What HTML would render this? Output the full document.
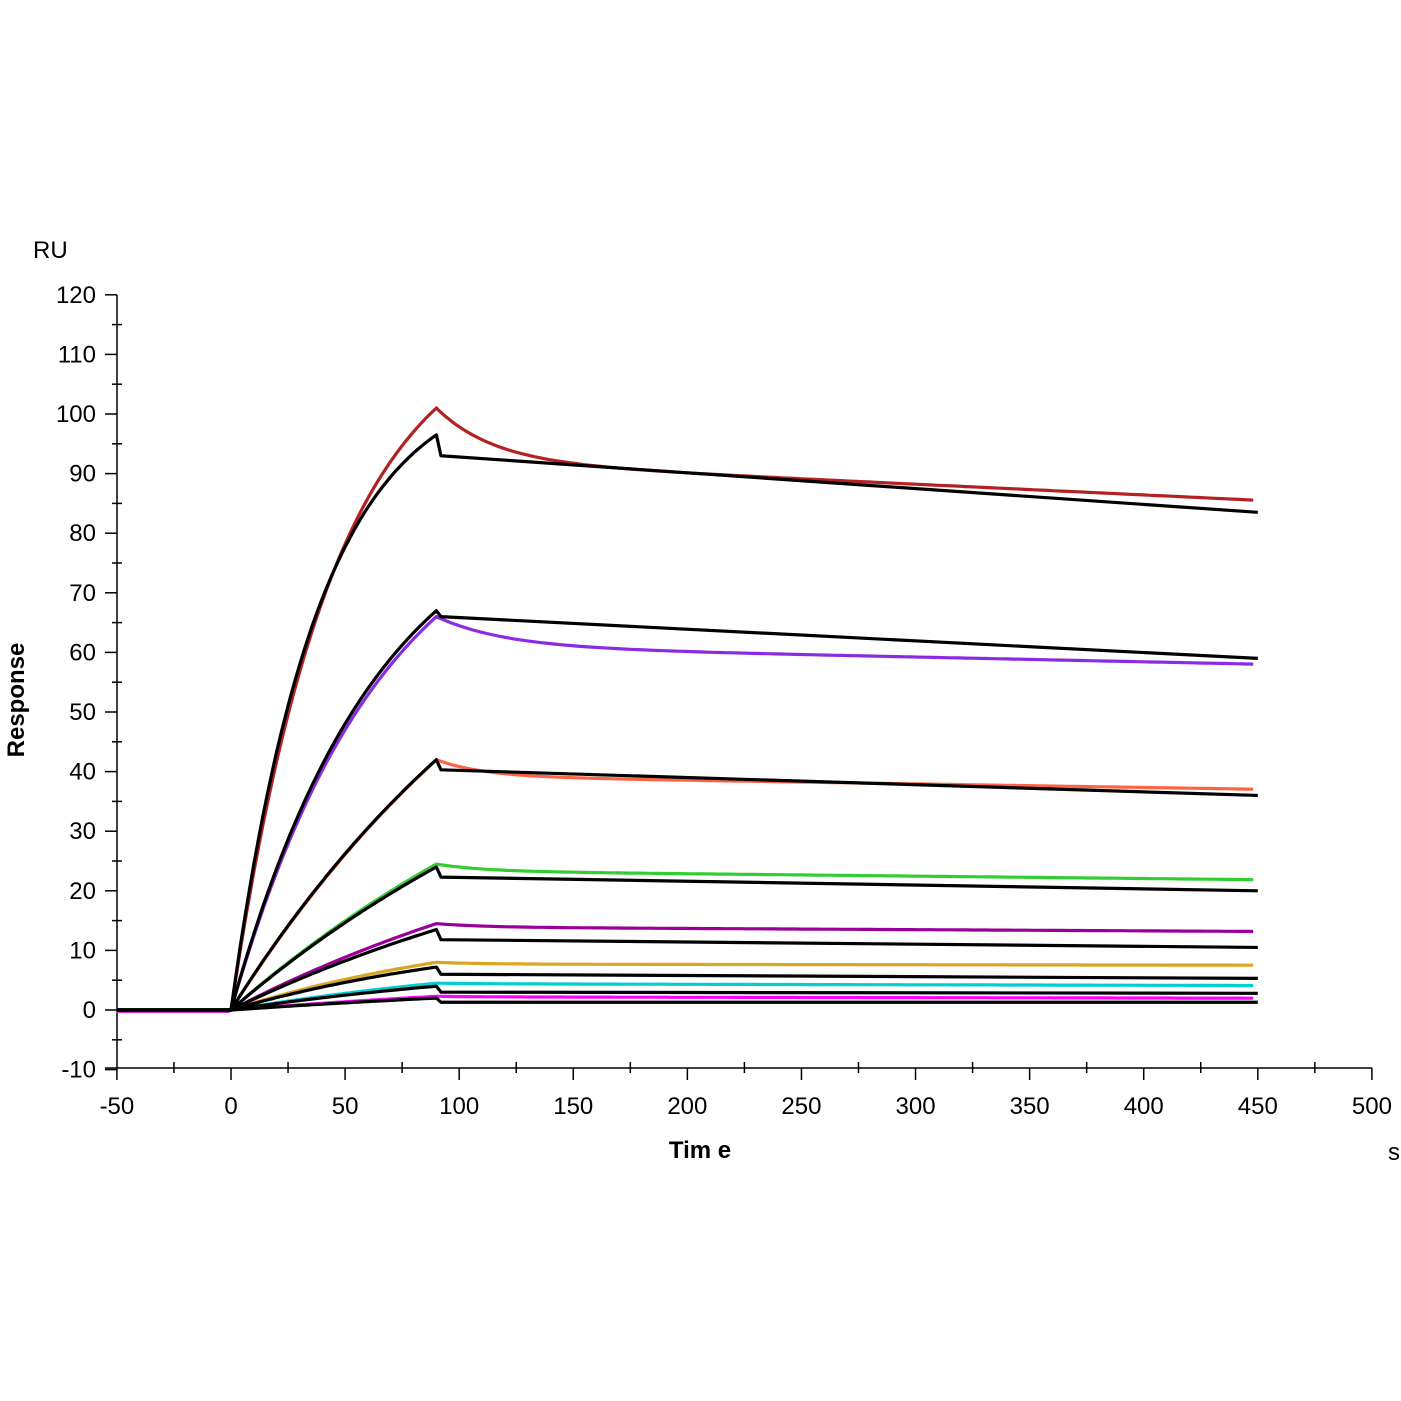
<!DOCTYPE html>
<html><head><meta charset="utf-8"><style>
body{margin:0;background:#fff}
svg{display:block}
text{font-family:"Liberation Sans",Arial,sans-serif;fill:#000}
</style></head><body>
<svg id="s" width="1401" height="1401" viewBox="0 0 1401 1401" xmlns="http://www.w3.org/2000/svg">
<rect width="1401" height="1401" fill="#fff"/>
<g id="axes" stroke="#000" stroke-width="1.5" fill="none"></g>
<g id="lbl" font-size="24"></g>
<text x="33" y="258" font-size="24">RU</text>
<text x="0" y="0" font-size="24" font-weight="bold" transform="translate(24,700) rotate(-90)" text-anchor="middle">Response</text>
<text x="700" y="1158" font-size="24" font-weight="bold" text-anchor="middle">Tim e</text>
<text x="1388" y="1160" font-size="24">s</text>
<g id="curves" fill="none" stroke-width="3.2" stroke-linejoin="round"></g>
</svg>
<script>
var NS="http://www.w3.org/2000/svg";
function X(t){return 231+2.2818*t}
function Y(v){return 1010-5.96*v}
var ax=document.getElementById('axes'),lb=document.getElementById('lbl'),cv=document.getElementById('curves');
function el(p,tag,a,txt){var e=document.createElementNS(NS,tag);for(var k in a)e.setAttribute(k,a[k]);if(txt!=null)e.textContent=txt;p.appendChild(e);return e}
el(ax,'line',{x1:117,y1:295,x2:117,y2:1068});
el(ax,'line',{x1:105,y1:1068,x2:1372,y2:1068});
for(var v=-10;v<=120;v+=5){var y=Y(v);var maj=v%10==0;
 el(ax,'line',{x1:maj?105:112,y1:y,x2:maj?117:122,y2:y});
 if(maj)el(lb,'text',{x:96,y:y+8,'text-anchor':'end'},String(v));}
for(var t=-50;t<=500;t+=25){var x=X(t);var maj=t%50==0;
 el(ax,'line',{x1:x,y1:maj?1068:1062,x2:x,y2:maj?1080:1073});
 if(maj)el(lb,'text',{x:x,y:1114,'text-anchor':'middle'},String(t));}
var S=[
 ['#b22222',101,9,25,0.018,0.022, 96.5,93,83.5,0.026],
 ['#8a2be2',66,5.1,30,0.008,0.015, 67,66,59,0.0155],
 ['#ff6347',42,2.8,20,0.006,0.006, 42,40.3,36,0.0063],
 ['#32cd32',24.5,1.2,20,0.004,0.005, 24,22.3,20,0.005],
 ['#990099',14.5,0.6,20,0.002,0.005, 13.5,11.8,10.5,0.005],
 ['#daa520',8,0.3,20,0.0005,0.008, 7.2,6,5.3,0.008],
 ['#00ced1',4.5,0.1,20,0.0008,0.006, 4,3,2.8,0.006],
 ['#ff00ff',2.3,0.1,20,0.0006,0.004, 2,1.3,1.3,0.004]];
function assoc(peak,k,t){return peak*(1-Math.exp(-k*t))/(1-Math.exp(-k*90))}
var fits=[];
S.forEach(function(s){
 var d='M'+X(-50)+' '+Y(-0.2)+' L'+X(-1)+' '+Y(-0.2);
 for(var t=0;t<=90;t+=2)d+=' L'+X(t).toFixed(1)+' '+Y(assoc(s[1],s[5],t)).toFixed(1);
 for(var t=91;t<=450;t+=3){var u=t-90;var v=s[1]-s[2]*(1-Math.exp(-u/s[3]))-s[4]*u;d+=' L'+X(t).toFixed(1)+' '+Y(v).toFixed(1);}
 el(cv,'path',{d:d,stroke:s[0]});
 var f='M'+X(-50)+' '+Y(0)+' L'+X(0)+' '+Y(0);
 var kf=s[9];
 for(var t=0;t<=90;t+=2)f+=' L'+X(t).toFixed(1)+' '+Y(assoc(s[6],kf,t)).toFixed(1);
 f+=' L'+X(92)+' '+Y(s[7])+' L'+X(450)+' '+Y(s[8]);
 fits.push(f);
});
fits.forEach(function(f){el(cv,'path',{d:f,stroke:'#000'})});
</script>
</body></html>
